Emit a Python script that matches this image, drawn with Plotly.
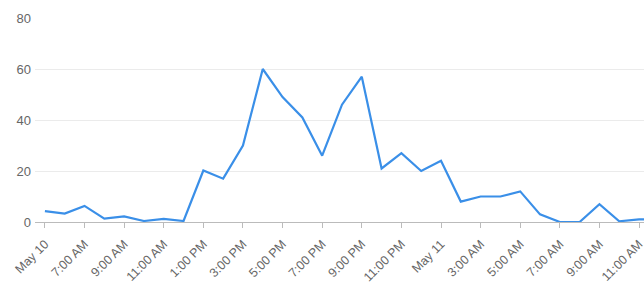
import plotly.graph_objects as go

times = [
    "2024-05-10 05:00", "2024-05-10 06:00", "2024-05-10 07:00", "2024-05-10 08:00",
    "2024-05-10 09:00", "2024-05-10 10:00", "2024-05-10 11:00", "2024-05-10 12:00",
    "2024-05-10 13:00", "2024-05-10 14:00", "2024-05-10 15:00", "2024-05-10 16:00",
    "2024-05-10 17:00", "2024-05-10 18:00", "2024-05-10 19:00", "2024-05-10 20:00",
    "2024-05-10 21:00", "2024-05-10 22:00", "2024-05-10 23:00", "2024-05-11 00:00",
    "2024-05-11 01:00", "2024-05-11 02:00", "2024-05-11 03:00", "2024-05-11 04:00",
    "2024-05-11 05:00", "2024-05-11 06:00", "2024-05-11 07:00", "2024-05-11 08:00",
    "2024-05-11 09:00", "2024-05-11 10:00", "2024-05-11 11:00", "2024-05-11 12:00",
]
values = [4.3, 3.3, 6.3, 1.3, 2.2, 0.4, 1.2, 0.4,
          20.2, 17, 30, 60, 49, 41, 26, 46,
          57, 21, 27, 20, 24, 8, 10, 10,
          12, 3, 0, 0, 7, 0.3, 1, 1.2]

tick_vals = [
    "2024-05-10 05:00", "2024-05-10 07:00", "2024-05-10 09:00", "2024-05-10 11:00",
    "2024-05-10 13:00", "2024-05-10 15:00", "2024-05-10 17:00", "2024-05-10 19:00",
    "2024-05-10 21:00", "2024-05-10 23:00", "2024-05-11 01:00", "2024-05-11 03:00",
    "2024-05-11 05:00", "2024-05-11 07:00", "2024-05-11 09:00", "2024-05-11 11:00",
]
tick_text = ["May 10", "7:00 AM", "9:00 AM", "11:00 AM", "1:00 PM", "3:00 PM",
             "5:00 PM", "7:00 PM", "9:00 PM", "11:00 PM", "May 11", "3:00 AM",
             "5:00 AM", "7:00 AM", "9:00 AM", "11:00 AM"]

fig = go.Figure()
fig.add_trace(go.Scatter(
    x=times, y=values, mode="lines",
    line=dict(color="#3a8fe8", width=2.2),
    hoverinfo="skip",
))

fig.update_layout(
    width=644, height=283,
    margin=dict(l=35, r=0, t=18, b=61),
    paper_bgcolor="white", plot_bgcolor="white",
    showlegend=False,
    font=dict(family="Liberation Sans, Arial, sans-serif", size=12, color="#666666"),
    xaxis=dict(
        type="date",
        range=["2024-05-10 04:30", "2024-05-11 11:15"],
        tickmode="array", tickvals=tick_vals, ticktext=tick_text,
        tickangle=-45,
        ticks="outside", ticklen=5, tickcolor="#bbbbbb", tickwidth=1,
        showgrid=False, showline=True, linecolor="#bbbbbb", linewidth=1,
        zeroline=False,
        automargin=False,
        ticklabeloverflow="allow",
        ticklabelstandoff=4,
        tickfont=dict(size=12.5, color="#666666"),
    ),
    yaxis=dict(
        range=[0, 80], tickvals=[0, 20, 40, 60, 80],
        showgrid=True, gridcolor="#ebebeb", gridwidth=1,
        zeroline=False, showline=False,
        automargin=False,
        ticks="", ticklabelstandoff=3,
        tickfont=dict(size=13, color="#666666"),
    ),
)

fig.write_html("out.html")
